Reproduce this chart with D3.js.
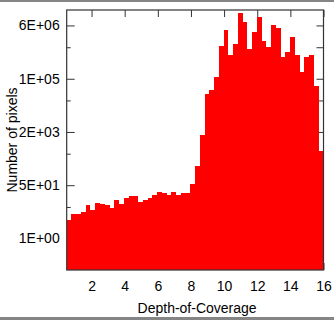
<!DOCTYPE html>
<html>
<head>
<meta charset="utf-8">
<script src="https://cdn.jsdelivr.net/npm/d3@7"></script>
<style>
  body { margin: 0; background: #fff; }
  svg { display: block; }
  text { font-family: "Liberation Sans", Arial, sans-serif; fill: #000; }
</style>
</head>
<body>
<div id="chart"></div>
<script>
// size of the picture
let w = 334;
let h = 320;
let margin = { top: 10, right: 10.5, bottom: 50, left: 66.7 };

// histogram: 54 equal bins over the depth range
let binStart = 0.5;
let binEnd = 16;
let counts = [
  4.0, 6.1, 6.1, 6.9, 11.3, 8.2, 13.7, 12.2, 11.8, 9.3,
  16.6, 12.2, 19.7, 22.3, 22.8, 14.1, 17.0, 19.3, 23.5, 29.9,
  27.2, 23.5, 29.9, 23.5, 27.8, 27.8, 52.5, 195, 1960, 38400,
  52600, 130000, 1.25e6, 4.12e6, 6.49e5, 1.48e6, 1.43e7, 7.23e6, 1.03e6, 3.48e6,
  1.06e7, 1.80e6, 1.16e6, 6.07e6, 4.77e6, 5.61e5, 8.44e5, 2.42e6, 6.78e5, 1.87e5,
  5.73e5, 6.78e5, 67400, 611
];

// axes
let xTicks = [2, 4, 6, 8, 10, 12, 14, 16];
let yMajor = [1, 49, 2400, 117000, 5.75e6];
let yMajorLabels = ["1E+00", "5E+01", "2E+03", "1E+05", "6E+06"];
let yMinor = [10, 490, 24000, 1.17e6];

let iw = w - margin.left - margin.right;
let ih = h - margin.top - margin.bottom;

let x = d3.scaleLinear().domain([binStart, binEnd]).range([0, iw]);
let y = d3.scaleLog().domain([0.1, Math.pow(10, 7.25)]).range([ih, 0]);
let binW = (binEnd - binStart) / counts.length;

let svg = d3.select("#chart").append("svg")
  .attr("width", w)
  .attr("height", h);

// grey borders of the screenshot
svg.append("rect").attr("x", 0).attr("y", 0).attr("width", w).attr("height", 2).attr("fill", "#858585");
svg.append("rect").attr("x", 0).attr("y", h - 3).attr("width", w).attr("height", 3).attr("fill", "#858585");

let g = svg.append("g").attr("transform", `translate(${margin.left},${margin.top})`);

// ticks go below the bars
let leftAxis = g.append("g")
  .call(d3.axisLeft(y).tickValues(yMajor).tickSizeInner(-8).tickSizeOuter(0).tickPadding(7)
    .tickFormat((d, i) => yMajorLabels[i]));
leftAxis.select(".domain").remove();
leftAxis.selectAll("text").style("font-size", "14px").style("font-family", "Liberation Sans, Arial, sans-serif");
leftAxis.selectAll("line").attr("stroke", "#333");

let leftMinor = g.append("g")
  .call(d3.axisLeft(y).tickValues(yMinor).tickSizeInner(-4).tickSizeOuter(0).tickFormat(""));
leftMinor.select(".domain").remove();
leftMinor.selectAll("line").attr("stroke", "#333");

let rightAxis = g.append("g")
  .attr("transform", `translate(${iw},0)`)
  .call(d3.axisRight(y).tickValues(yMajor.concat(yMinor)).tickSizeInner(-7).tickSizeOuter(0).tickFormat(""));
rightAxis.select(".domain").remove();
rightAxis.selectAll("line").attr("stroke", "#333");

let topAxis = g.append("g")
  .call(d3.axisTop(x).tickValues(xTicks).tickSizeInner(-7).tickSizeOuter(0).tickFormat(""));
topAxis.select(".domain").remove();
topAxis.selectAll("line").attr("stroke", "#333");

let bottomAxis = g.append("g")
  .attr("transform", `translate(0,${ih})`)
  .call(d3.axisBottom(x).tickValues(xTicks).tickSizeInner(-7).tickSizeOuter(0).tickPadding(11.5)
    .tickFormat(d3.format("d")));
bottomAxis.select(".domain").remove();
bottomAxis.selectAll("text").style("font-size", "14px").style("font-family", "Liberation Sans, Arial, sans-serif");
bottomAxis.selectAll("line").attr("stroke", "#333");

// bars, crisp so neighbours of equal height merge without seams
g.append("g")
  .attr("shape-rendering", "crispEdges")
  .selectAll(".bar")
  .data(counts)
  .enter()
  .append("rect")
    .attr("class", "bar")
    .attr("x", (d, i) => Math.round(x(binStart + i * binW) + margin.left) - margin.left)
    .attr("width", (d, i) => Math.round(x(binStart + (i + 1) * binW) + margin.left) - Math.round(x(binStart + i * binW) + margin.left))
    .attr("y", d => y(d))
    .attr("height", d => ih - y(d))
    .attr("fill", "#ff0000");

// frame
g.append("rect")
  .attr("x", 0).attr("y", 0)
  .attr("width", iw).attr("height", ih)
  .attr("fill", "none")
  .attr("stroke", "#333")
  .attr("stroke-width", 1.2);

// axis titles
svg.append("text")
  .attr("x", margin.left + iw / 2 + 2)
  .attr("y", 313)
  .attr("text-anchor", "middle")
  .style("font-size", "14px")
  .text("Depth-of-Coverage");

svg.append("text")
  .attr("transform", "translate(17,140) rotate(-90)")
  .attr("text-anchor", "middle")
  .style("font-size", "14px")
  .text("Number of pixels");
</script>
</body>
</html>
